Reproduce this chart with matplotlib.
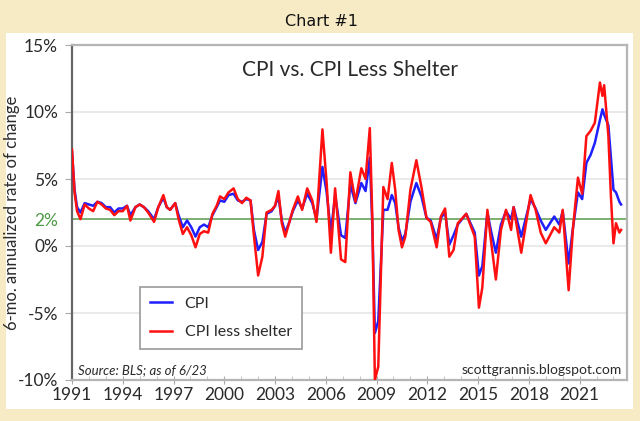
import numpy as np
import matplotlib
matplotlib.use('Agg')
import matplotlib.pyplot as plt
from matplotlib.patches import Rectangle
from matplotlib.ticker import MultipleLocator

# dates as decimal years, values in % (6-mo. annualized)
dates = [1991.00, 1991.15, 1991.30, 1991.50, 1991.75, 1992.00, 1992.25, 1992.50, 1992.75,
         1993.00, 1993.25, 1993.50, 1993.75, 1994.00, 1994.25, 1994.45, 1994.75,
         1995.00, 1995.25, 1995.50, 1995.85, 1996.10, 1996.40, 1996.60, 1996.80,
         1997.10, 1997.30, 1997.55, 1997.80, 1998.05, 1998.30, 1998.55, 1998.80,
         1999.05, 1999.30, 1999.55, 1999.75, 2000.00, 2000.25, 2000.55, 2000.80,
         2001.05, 2001.30, 2001.55, 2001.75, 2002.00, 2002.25, 2002.50, 2002.80,
         2003.00, 2003.20, 2003.40, 2003.60, 2003.85, 2004.05, 2004.35, 2004.60, 2004.90,
         2005.20, 2005.45, 2005.80, 2006.05, 2006.30, 2006.55, 2006.90,
         2007.15, 2007.45, 2007.75, 2008.10, 2008.35, 2008.60, 2008.75, 2008.90,
         2009.10, 2009.40, 2009.65, 2009.90, 2010.10, 2010.30, 2010.50, 2010.70,
         2011.00, 2011.35, 2011.65, 2011.95, 2012.20, 2012.55, 2012.80,
         2013.05, 2013.30, 2013.55, 2013.80, 2014.30, 2014.80,
         2015.05, 2015.25, 2015.55, 2015.75, 2016.05, 2016.35, 2016.65, 2016.95,
         2017.10, 2017.55, 2018.10, 2018.40, 2018.70, 2019.00, 2019.50, 2019.80,
         2020.00, 2020.35, 2020.60, 2020.90, 2021.15, 2021.40, 2021.65, 2021.90,
         2022.20, 2022.35, 2022.45, 2022.70, 2022.85, 2023.00, 2023.15, 2023.35, 2023.45]

cpi = [7.0, 4.2, 2.9, 2.5, 3.2, 3.1, 3.0, 3.3, 3.2,
       2.9, 2.9, 2.5, 2.8, 2.8, 3.0, 2.3, 2.9,
       3.1, 2.9, 2.6, 2.0, 2.9, 3.6, 2.9, 2.7,
       3.2, 2.3, 1.4, 1.9, 1.4, 0.7, 1.4, 1.6,
       1.4, 2.3, 2.9, 3.4, 3.3, 3.8, 3.9, 3.4,
       3.3, 3.5, 3.4, 1.2, -0.3, 0.3, 2.4, 2.6,
       3.0, 3.7, 1.9, 1.0, 1.8, 2.6, 3.4, 2.8, 3.9,
       3.2, 2.0, 5.9, 4.0, 1.0, 3.8, 0.8,
       0.6, 4.6, 3.2, 4.7, 4.1, 6.6, 1.5, -6.5,
       -5.6, 2.7, 2.7, 3.8, 3.2, 1.4, 0.4, 0.9,
       3.3, 4.7, 3.7, 2.1, 1.9, 0.5, 2.1,
       2.5, 0.1, 0.8, 1.6, 2.4, 1.0,
       -2.2, -1.5, 2.5, 1.2, -0.5, 1.6, 2.6, 2.0,
       2.9, 0.7, 3.5, 2.8, 1.9, 1.2, 2.2, 1.6,
       2.6, -1.3, 1.3, 4.0, 3.5, 6.2, 6.8, 7.7,
       9.4, 10.2, 9.8, 9.0, 6.6, 4.2, 4.0, 3.3, 3.1]

cpi_less_shelter = [7.2, 4.0, 2.6, 2.0, 3.1, 2.8, 2.6, 3.3, 3.1,
                    2.8, 2.7, 2.3, 2.6, 2.6, 3.0, 1.9, 2.9,
                    3.1, 2.9, 2.5, 1.8, 2.9, 3.8, 2.9, 2.7,
                    3.2, 2.0, 0.9, 1.4, 0.8, -0.1, 0.9, 1.1,
                    1.0, 2.4, 3.0, 3.7, 3.5, 4.0, 4.3, 3.5,
                    3.2, 3.6, 3.4, 0.8, -2.2, -0.8, 2.5, 2.7,
                    3.0, 4.1, 1.7, 0.7, 1.8, 2.7, 3.7, 2.7, 4.3,
                    3.4, 1.8, 8.7, 4.7, -0.5, 4.3, -1.0,
                    -1.2, 5.5, 3.3, 5.8, 5.0, 8.8, 2.0, -10.0,
                    -9.0, 4.4, 3.5, 6.2, 4.2, 1.2, -0.1, 0.7,
                    4.2, 6.4, 4.4, 2.1, 1.8, -0.1, 2.2,
                    2.8, -0.8, -0.3, 1.7, 2.4, 0.7,
                    -4.6, -3.1, 2.7, 0.5, -2.5, 1.2, 2.7, 1.2,
                    2.9, -0.5, 3.8, 2.7, 1.0, 0.2, 1.4, 1.0,
                    2.7, -3.3, 1.2, 5.1, 3.9, 8.2, 8.6, 9.2,
                    12.2, 11.2, 12.0, 8.2, 3.7, 0.2, 1.7, 1.0, 1.2]

year_ticks = [1991, 1994, 1997, 2000, 2003, 2006, 2009, 2012, 2015, 2018, 2021]
pct_ticks = [-10, -5, 0, 5, 10, 15]

fnt = 'Lato'
ink = '#2a2a2a'

fig = plt.figure(figsize=(6.4, 4.21), dpi=100)
fig.patch.set_facecolor('#f7ebc6')
# white chart panel
fig.patches.append(Rectangle((6/640, 1 - 409/421), 627/640, 376/421,
                             transform=fig.transFigure, facecolor='white',
                             edgecolor='none', zorder=-5))
fig.text(0.503, 1 - 22/421, 'Chart #1', ha='center', va='center', fontsize=11.5,
         family='DejaVu Sans', color='#111111')

ax = fig.add_axes([72/640, 1 - 380/421, 555/640, 335/421])
ax.set_zorder(2)
ax.set_facecolor('white')

for v in pct_ticks:
    ax.axhline(v, color='#e6e6e6', lw=1.2, zorder=1)
ax.axhline(2, color='#5a9a4a', lw=1.1, zorder=2)

ax.plot(dates, cpi, color='#1f1fff', lw=1.8, zorder=3, label='CPI')
ax.plot(dates, cpi_less_shelter, color='#ff1010', lw=1.8, zorder=4, label='CPI less shelter')

ax.set_xlim(1991, 2023.8)
ax.set_ylim(-10, 15)

ax.set_xticks(year_ticks)
ax.set_xticklabels([str(y) for y in year_ticks], family=fnt, fontsize=12.5, color=ink)
ax.xaxis.set_minor_locator(MultipleLocator(1))
ax.tick_params(axis='x', which='major', direction='inout', length=6, color='#aaaaaa', pad=2)
ax.tick_params(axis='x', which='minor', direction='in', length=3, color='#bbbbbb')

ax.set_yticks(pct_ticks + [2])
ax.set_yticklabels([f'{v}%' for v in pct_ticks] + ['2%'], family=fnt, fontsize=12.5, color=ink)
ax.get_yticklabels()[-1].set_color('#4f9a45')
ax.tick_params(axis='y', direction='out', length=5, color='#aaaaaa', pad=5)
ax.yaxis.get_major_ticks()[-1].tick1line.set_visible(False)

ax.set_ylabel('6-mo. annualized rate of change', family=fnt, fontsize=12, color=ink)
ax.yaxis.set_label_coords(-52/555, 0.5)

for s in ['top', 'right', 'bottom']:
    ax.spines[s].set_color('#b5b5b5')
    ax.spines[s].set_linewidth(1.6)
ax.spines['left'].set_color('#666666')
ax.spines['left'].set_linewidth(1.6)

ax.text(0.5, 0.925, 'CPI vs. CPI Less Shelter', transform=ax.transAxes, ha='center',
        va='center', family=fnt, fontsize=15, color=ink)
ax.text(0.01, 0.03, 'Source: BLS; as of 6/23', transform=ax.transAxes, ha='left',
        va='center', family=fnt, fontsize=9.5, style='italic', color=ink)
ax.text(0.99, 0.03, 'scottgrannis.blogspot.com', transform=ax.transAxes, ha='right',
        va='center', family=fnt, fontsize=10, color=ink)

leg = ax.legend(loc='upper left', bbox_to_anchor=(68/555, 1 - 242/335), frameon=True,
                fancybox=False, edgecolor='#999999', framealpha=1, handlelength=1.4,
                borderpad=0.6, labelspacing=0.9, borderaxespad=0, handletextpad=0.8,
                prop={'family': fnt, 'size': 11.5})
leg.get_frame().set_linewidth(1.2)
for t in leg.get_texts():
    t.set_color(ink)

fig.savefig('out.png', dpi=100, facecolor=fig.get_facecolor())
